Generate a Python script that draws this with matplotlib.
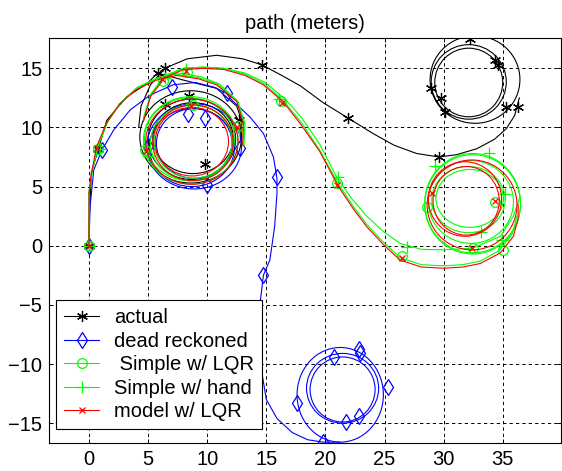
import matplotlib
matplotlib.use("Agg")
import matplotlib.pyplot as plt
from matplotlib.patches import Ellipse
from matplotlib.lines import Line2D

plt.rcParams['font.family'] = ['Liberation Sans', 'DejaVu Sans']
plt.rcParams['lines.scale_dashes'] = False

# ---- actual (black) ----
actual_entry_x = [0, 0.0, 0.1, 0.2, 0.8, 1.5, 3.2, 4.9, 5.8, 8.0, 10.8, 12.5, 12.9, 12.8]
actual_entry_y = [0, 2.0, 4.0, 6.2, 8.2, 10.6, 12.6, 13.7, 14.6, 14.0, 13.3, 11.8, 10.6, 9.0]
actual_exit_x = [4.2, 4.4, 5.2, 6.4, 8.3, 10.8, 13.0, 14.6, 16.3, 17.9, 19.8, 21.9, 24.0,
                 25.8, 27.7, 29.6, 31.1, 32.8, 34.3, 35.3, 36.0, 36.4]
actual_exit_y = [10.0, 11.8, 13.6, 15.0, 15.8, 16.1, 15.8, 15.3, 14.4, 13.5, 12.1, 10.8, 9.5,
                 8.5, 7.8, 7.5, 7.7, 8.2, 9.0, 9.9, 11.0, 12.5]
# loops: centre x, centre y, width, height
actual_rings = [(8.6, 9.2, 8.6, 7.8), (8.7, 9.0, 7.4, 6.8), (8.8, 9.1, 6.8, 6.0),
                (32.65, 14.05, 7.6, 7.4), (32.12, 13.85, 6.35, 6.3), (32.12, 13.8, 5.75, 5.8)]
actual_mark_x = [0, 0.8, 5.8, 6.4, 8.5, 12.7, 9.8, 6.4, 14.6, 21.9, 29.6, 32.2, 34.3, 34.6,
                 28.9, 29.8, 30.1, 35.3, 36.3]
actual_mark_y = [0, 8.2, 14.6, 15.0, 12.7, 10.6, 6.9, 12.0, 15.3, 10.8, 7.5, 17.5, 15.7, 15.3,
                 13.3, 12.5, 11.3, 11.75, 11.75]

# ---- dead reckoned (blue) ----
dead_path_x = [0, 0.05, 0.1, 0.4, 1.1, 2.1, 3.5, 5.2, 7.1, 9.0, 10.6, 11.6, 12.1, 13.6, 14.75,
               15.6, 15.9, 15.9, 15.7, 15.3, 14.75, 14.5, 14.4, 14.5, 15.0, 15.9, 17.2, 18.5,
               19.8, 21.2]
dead_path_y = [0, 2.0, 3.4, 6.4, 8.1, 9.8, 11.5, 12.75, 13.6, 13.8, 13.4, 12.9, 12.3, 10.9, 9.5,
               7.5, 5.7, 4.4, 1.6, -1.2, -2.5, -4.6, -7.0, -10.0, -13.0, -14.6, -15.8, -16.4,
               -16.6, -16.6]
dead_rings = [(8.9, 8.4, 8.0, 7.2), (8.7, 8.3, 7.2, 6.6), (8.9, 8.65, 6.4, 5.9),
              (21.25, -12.6, 7.3, 8.0), (21.45, -12.05, 6.1, 5.9), (21.45, -12.15, 5.5, 5.5)]
dead_mark_x = [0, 1.1, 7.0, 11.7, 8.4, 9.8, 12.8, 10.0, 5.0, 15.9, 14.75, 19.8, 17.6, 20.7,
               22.8, 22.9, 25.3, 21.7, 22.8]
dead_mark_y = [0, 8.1, 13.4, 12.9, 11.1, 10.8, 8.3, 5.1, 8.4, 5.8, -2.5, -16.6, -13.3, -9.4,
               -8.7, -9.1, -11.9, -14.9, -14.4]

# ---- Simple w/ LQR (green, circles) ----
lqr_entry_x = [0, 0.0, 0.0, 0.25, 0.7, 1.5, 2.6, 4.0, 5.7, 7.4, 9.3, 10.8, 12.5, 13.1, 13.0]
lqr_entry_y = [0, 2.0, 4.5, 6.1, 8.4, 10.4, 12.0, 13.3, 14.1, 14.5, 14.2, 13.7, 12.3, 10.4, 8.5]
lqr_exit_x = [4.6, 5.2, 6.4, 8.0, 9.7, 11.4, 13.2, 14.8, 16.4, 17.9, 19.5, 21.1, 22.3, 23.5,
              24.9, 26.3, 28.1, 30.0, 31.6, 33.1, 34.7, 35.8, 36.2]
lqr_exit_y = [10.6, 12.7, 14.3, 15.0, 15.1, 15.0, 14.5, 13.7, 12.3, 10.5, 8.1, 5.2, 3.4, 1.8,
              0.3, -1.0, -1.6, -1.7, -1.6, -1.3, -0.4, 1.0, 2.5]
lqr_rings = [(8.6, 8.9, 8.0, 7.4), (8.8, 8.8, 6.6, 6.2),
             (32.3, 3.7, 7.2, 7.0), (32.1, 3.9, 6.2, 5.6), (32.45, 3.5, 8.1, 8.4)]
lqr_mark_x = [0, 0.8, 6.3, 8.3, 8.8, 4.7, 12.6, 16.2, 21.0, 26.5, 32.5, 35.05, 34.35, 28.6]
lqr_mark_y = [0, 8.2, 13.9, 14.7, 11.9, 8.1, 10.1, 12.2, 5.3, -0.9, -0.2, -0.35, 3.7, 3.3]

# ---- Simple w/ hand (green, plus) ----
hand_entry_x = [0, 0.0, 0.0, 0.25, 0.8, 1.6, 2.7, 4.1, 5.8, 7.5, 9.4, 11.0, 12.6, 13.2, 13.1]
hand_entry_y = [0, 2.0, 4.5, 6.2, 8.5, 10.5, 12.1, 13.4, 14.2, 14.6, 14.3, 13.7, 12.2, 10.3, 8.4]
hand_exit_x = [4.6, 5.2, 6.4, 8.0, 9.7, 11.4, 13.2, 14.9, 16.6, 18.0, 19.5, 20.95, 22.2, 23.5,
               24.9, 26.3, 28.1, 30.0, 32.5, 34.8, 35.9, 36.4]
hand_exit_y = [10.8, 12.8, 14.4, 15.0, 15.1, 15.0, 14.6, 13.8, 12.4, 10.8, 8.6, 5.8, 4.0, 2.5,
               1.2, 0.2, -0.3, -0.35, -0.2, 0.8, 2.5, 4.0]
hand_rings = [(8.5, 9.0, 7.6, 7.0), (8.7, 8.7, 7.0, 6.4),
              (32.45, 3.6, 8.1, 8.4), (32.2, 4.0, 5.7, 4.9)]
hand_mark_x = [0, 0.9, 6.4, 8.2, 8.6, 5.0, 12.7, 16.1, 21.1, 26.9, 34.9, 33.2, 35.2, 29.3, 33.8]
hand_mark_y = [0, 8.2, 14.2, 14.9, 12.0, 7.6, 9.8, 12.4, 5.8, -0.1, 0.5, 1.2, 4.4, 6.7, 7.8]

# ---- model w/ LQR (red, x) ----
model_entry_x = [0, 0.0, 0.0, 0.2, 0.65, 1.5, 2.6, 4.0, 5.7, 7.4, 9.3, 10.8, 12.5, 13.05, 13.0]
model_entry_y = [0, 2.0, 4.5, 6.1, 8.4, 10.4, 12.0, 13.2, 14.0, 14.4, 14.1, 13.6, 12.2, 10.35, 8.5]
model_exit_x = [4.6, 5.2, 6.4, 8.0, 9.7, 11.4, 13.2, 14.75, 16.4, 17.85, 19.5, 21.1, 22.3, 23.5,
                24.9, 26.3, 28.1, 30.0, 31.6, 33.1, 34.8, 35.9, 36.3, 36.3]
model_exit_y = [10.5, 12.6, 14.2, 14.9, 15.0, 14.9, 14.4, 13.6, 12.2, 10.35, 8.0, 5.0, 3.2, 1.6,
                0.1, -1.2, -1.8, -1.9, -1.8, -1.5, -0.6, 0.8, 2.3, 3.5]
model_rings = [(8.7, 8.8, 7.8, 7.2), (8.8, 8.7, 6.8, 6.4), (8.7, 8.8, 6.2, 5.8),
               (32.4, 3.45, 7.6, 7.6), (31.8, 3.95, 6.2, 6.3), (31.9, 3.8, 5.6, 5.8)]
model_mark_x = [0, 0.7, 6.2, 8.6, 12.5, 4.8, 8.2, 16.3, 21.0, 26.5, 32.4, 34.3, 29.0]
model_mark_y = [0, 8.3, 14.1, 11.8, 10.0, 8.0, 14.8, 12.1, 5.1, -1.0, -0.2, 3.8, 4.5]

labels = ['actual', 'dead reckoned', ' Simple w/ LQR', 'Simple w/ hand', 'model w/ LQR']

series = [
    ([(actual_entry_x, actual_entry_y), (actual_exit_x, actual_exit_y)], actual_rings,
     actual_mark_x, actual_mark_y, 'k', (6, 2, 0), 8, 'none'),
    ([(dead_path_x, dead_path_y)], dead_rings, dead_mark_x, dead_mark_y, '#0000ff', 'd', 8, 'none'),
    ([(lqr_entry_x, lqr_entry_y), (lqr_exit_x, lqr_exit_y)], lqr_rings,
     lqr_mark_x, lqr_mark_y, '#00ff00', 'o', 7, 'none'),
    ([(hand_entry_x, hand_entry_y), (hand_exit_x, hand_exit_y)], hand_rings,
     hand_mark_x, hand_mark_y, '#00ff00', '+', 9, 'none'),
    ([(model_entry_x, model_entry_y), (model_exit_x, model_exit_y)], model_rings,
     model_mark_x, model_mark_y, '#ff0000', 'x', 4, 'none'),
]

fig = plt.figure(figsize=(5.62, 4.71), dpi=100)
ax = fig.add_axes([0.0877, 0.0588, 0.910, 0.860])

handles = []
for i, (paths, rings, mx, my, col, mk, ms, mfc) in enumerate(series):
    z = 3 + i
    for px, py in paths:
        ax.plot(px, py, color=col, lw=0.8, zorder=z)
    for cx, cy, w, h in rings:
        ax.add_patch(Ellipse((cx, cy), w, h, fill=False, edgecolor=col, lw=0.8, zorder=z))
    ax.plot(mx, my, linestyle='none', marker=mk, ms=ms, mec=col, mfc=mfc, mew=0.9, zorder=z)
    handles.append(Line2D([], [], color=col, lw=0.8, marker=mk, ms=ms, mec=col, mfc=mfc, mew=0.9))

ax.set_xlim(-3.36, 39.9)
ax.set_ylim(-16.7, 17.54)
ax.set_xticks(range(0, 40, 5))
ax.set_yticks(range(-15, 20, 5))
ax.grid(True, color='k', linestyle=(0, (2.4, 2.2)), linewidth=0.7)
ax.set_axisbelow(True)
ax.tick_params(direction='in', top=True, right=True, length=3, width=0.7, labelsize=14.5)
ax.tick_params(axis='y', pad=5)
ax.tick_params(axis='x', pad=4.5)
for sp in ax.spines.values():
    sp.set_linewidth(0.8)
ax.set_title('path (meters)', fontsize=14.5, pad=6.5)

leg = ax.legend(handles, labels, loc='lower left', bbox_to_anchor=(0.013, 0.035),
                borderaxespad=0, fontsize=14.5, fancybox=False, edgecolor='k', framealpha=1,
                handlelength=1.75, handletextpad=0.75, borderpad=0.4, labelspacing=0.22)
leg.get_frame().set_linewidth(0.8)
leg.set_zorder(20)

fig.savefig('out.png', dpi=100)
